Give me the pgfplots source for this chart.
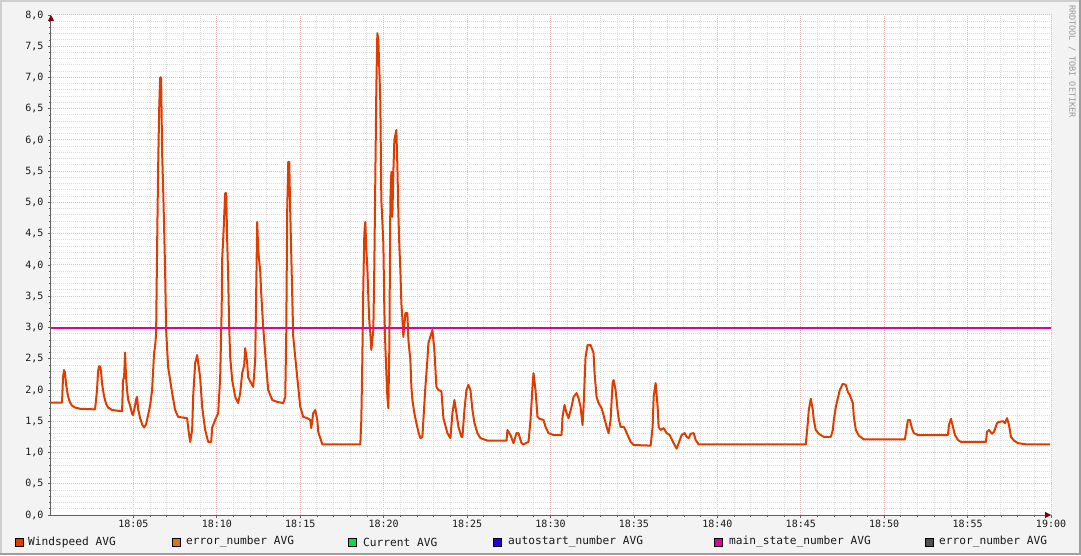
\documentclass[border=0pt]{standalone}
\usepackage{pgfplots}
\pgfplotsset{compat=1.18}
\usepackage{fontspec}
\setmainfont{DejaVu Sans Mono}
\usetikzlibrary{arrows.meta}
\definecolor{wind}{HTML}{E03C00}
\definecolor{errn}{HTML}{E07800}
\definecolor{curr}{HTML}{00E040}
\definecolor{auto}{HTML}{2000E0}
\definecolor{mains}{HTML}{E000A0}
\definecolor{errg}{HTML}{505050}
\definecolor{bgc}{HTML}{F3F3F3}
\definecolor{shadea}{HTML}{CFCFCF}
\definecolor{shadeb}{HTML}{9E9E9E}
\definecolor{gridc}{HTML}{DCDCDC}
\definecolor{mgridc}{HTML}{E6BCBC}
\definecolor{axisc}{HTML}{606060}
\definecolor{arrowc}{HTML}{800000}
\pgfplotstableread{
t v
0.06 1.80
0.72 1.80
0.78 2.20
0.84 2.32
0.90 2.28
0.96 2.10
1.02 2.00
1.08 1.90
1.20 1.80
1.32 1.75
1.50 1.72
1.80 1.70
2.70 1.69
2.82 2.00
2.88 2.30
2.94 2.38
3.00 2.38
3.06 2.30
3.12 2.10
3.24 1.90
3.36 1.78
3.48 1.72
3.72 1.68
4.32 1.66
4.38 2.16
4.44 2.20
4.50 2.60
4.56 2.20
4.62 2.00
4.68 1.85
4.80 1.75
4.92 1.62
4.98 1.60
5.10 1.75
5.16 1.85
5.22 1.89
5.28 1.70
5.40 1.55
5.52 1.45
5.64 1.40
5.76 1.45
5.88 1.60
6.00 1.75
6.12 2.00
6.18 2.30
6.24 2.60
6.30 2.70
6.36 2.90
6.42 4.29
6.48 5.52
6.54 6.45
6.60 7.00
6.66 7.00
6.72 5.80
6.78 5.25
6.84 4.60
6.90 3.90
6.96 2.96
7.08 2.37
7.32 1.95
7.50 1.68
7.68 1.57
8.22 1.55
8.28 1.40
8.40 1.17
8.52 1.36
8.58 1.89
8.70 2.43
8.82 2.56
9.00 2.20
9.12 1.73
9.30 1.36
9.48 1.17
9.66 1.17
9.72 1.40
9.90 1.52
10.08 1.63
10.20 2.20
10.29 3.30
10.32 4.10
10.38 4.40
10.44 4.77
10.50 5.15
10.56 5.15
10.62 4.40
10.68 3.80
10.74 3.00
10.80 2.53
10.92 2.16
11.10 1.89
11.28 1.79
11.40 1.95
11.52 2.27
11.64 2.40
11.70 2.67
11.82 2.43
11.88 2.20
12.12 2.08
12.18 2.05
12.30 2.48
12.36 3.60
12.42 4.69
12.48 4.24
12.60 3.90
12.66 3.55
12.78 3.00
12.96 2.37
13.08 2.00
13.32 1.84
13.62 1.81
13.98 1.79
14.10 1.89
14.16 2.90
14.22 4.90
14.28 5.65
14.34 5.65
14.40 4.85
14.52 3.50
14.58 2.85
14.82 2.20
15.00 1.73
15.18 1.57
15.42 1.55
15.60 1.52
15.66 1.39
15.78 1.63
15.90 1.68
16.02 1.52
16.08 1.33
16.20 1.23
16.32 1.13
18.60 1.13
18.66 1.52
18.72 2.48
18.78 3.68
18.84 4.51
18.90 4.69
18.96 4.24
19.02 3.97
19.08 3.49
19.14 3.09
19.20 2.91
19.26 2.64
19.38 2.96
19.44 4.00
19.56 6.83
19.62 7.71
19.68 7.60
19.74 7.12
19.80 6.59
19.86 5.04
19.98 4.35
20.04 3.28
20.10 2.69
20.22 1.89
20.28 1.71
20.34 2.69
20.40 5.04
20.46 5.49
20.52 4.77
20.58 5.49
20.64 6.00
20.76 6.16
20.82 5.60
20.88 4.83
20.94 4.29
21.00 3.92
21.06 3.39
21.12 3.15
21.18 2.85
21.30 3.23
21.42 3.23
21.48 2.80
21.60 2.48
21.66 2.05
21.72 1.84
21.84 1.63
21.96 1.47
22.08 1.33
22.20 1.23
22.32 1.25
22.38 1.52
22.50 2.05
22.62 2.48
22.68 2.75
22.92 2.96
23.04 2.64
23.16 2.05
23.28 2.00
23.46 1.98
23.58 1.55
23.82 1.31
24.00 1.23
24.12 1.63
24.24 1.84
24.36 1.63
24.48 1.41
24.66 1.25
24.72 1.25
24.84 1.68
24.96 2.00
25.08 2.08
25.20 2.00
25.32 1.68
25.44 1.47
25.62 1.31
25.80 1.23
26.22 1.19
27.36 1.19
27.42 1.36
27.60 1.28
27.78 1.15
27.96 1.31
28.08 1.31
28.26 1.15
28.38 1.13
28.68 1.17
28.80 1.52
28.92 2.05
28.98 2.27
29.10 2.00
29.22 1.57
29.34 1.54
29.58 1.52
29.70 1.41
29.88 1.31
30.18 1.28
30.66 1.28
30.72 1.57
30.84 1.76
30.96 1.63
31.08 1.55
31.26 1.73
31.38 1.89
31.56 1.95
31.68 1.87
31.80 1.73
31.92 1.44
31.98 1.73
32.10 2.53
32.22 2.72
32.40 2.72
32.58 2.59
32.64 2.27
32.76 1.89
32.88 1.79
33.06 1.71
33.18 1.60
33.36 1.41
33.48 1.31
33.60 1.52
33.72 2.11
33.78 2.16
33.90 2.00
34.02 1.68
34.08 1.55
34.20 1.41
34.38 1.41
34.44 1.39
34.62 1.28
34.80 1.17
34.98 1.12
36.00 1.11
36.12 1.41
36.18 1.89
36.30 2.11
36.42 1.73
36.48 1.41
36.60 1.36
36.78 1.39
36.96 1.31
37.14 1.28
37.38 1.15
37.56 1.06
37.68 1.15
37.86 1.28
38.04 1.31
38.16 1.25
38.28 1.23
38.40 1.30
38.58 1.31
38.70 1.20
38.88 1.13
45.30 1.13
45.42 1.47
45.48 1.68
45.60 1.86
45.72 1.68
45.78 1.52
45.90 1.36
46.08 1.30
46.38 1.25
46.80 1.25
46.92 1.36
46.98 1.52
47.10 1.73
47.22 1.87
47.34 2.00
47.52 2.10
47.70 2.08
47.82 1.97
47.94 1.92
48.12 1.79
48.18 1.57
48.30 1.36
48.48 1.27
48.78 1.21
51.24 1.21
51.36 1.41
51.42 1.52
51.54 1.52
51.66 1.39
51.78 1.31
52.02 1.28
53.82 1.28
53.88 1.44
54.00 1.54
54.12 1.41
54.24 1.28
54.42 1.20
54.60 1.17
56.10 1.17
56.16 1.33
56.28 1.36
56.46 1.30
56.58 1.33
56.76 1.47
56.88 1.49
57.12 1.50
57.24 1.47
57.36 1.55
57.48 1.44
57.60 1.25
57.78 1.19
58.02 1.15
58.50 1.13
59.94 1.13
}\windtable
\begin{document}
\begin{tikzpicture}
\useasboundingbox (0pt,0pt) rectangle (1081pt,555pt);
\fill[bgc] (0pt,0pt) rectangle (1081pt,555pt);
\fill[shadea] (0pt,553pt) rectangle (1081pt,555pt);
\fill[shadea] (0pt,0pt) rectangle (2pt,555pt);
\fill[shadeb] (0pt,0pt) rectangle (1081pt,2pt);
\fill[shadeb] (1079pt,0pt) rectangle (1081pt,555pt);
\begin{axis}[
  at={(51pt,40pt)}, anchor=south west,
  scale only axis, width=1000pt, height=500pt,
  xmin=0.06, xmax=60, ymin=0, ymax=8,
  axis background/.style={fill=white},
  axis lines=left,
  x axis line style={draw=axisc, line width=1pt, -{Triangle[length=6pt,width=6pt,color=arrowc]}},
  y axis line style={draw=axisc, line width=1pt, -{Triangle[length=6pt,width=6pt,color=arrowc]}},
  xtick={5,10,...,60},
  xticklabels={18:05,18:10,18:15,18:20,18:25,18:30,18:35,18:40,18:45,18:50,18:55,19:00},
  ytick={0,0.5,...,8},
  minor x tick num=4, minor y tick num=4,
  tick align=outside, major tick length=3pt, minor tick length=2pt,
  tick style={draw=axisc, line width=0.8pt},
  grid=both,
  major grid style={draw=mgridc, line width=1pt, dash pattern=on 1pt off 1pt},
  minor grid style={draw=gridc, line width=1pt, dash pattern=on 1pt off 1pt},
  ticklabel style={font=\fontsize{10}{10}\selectfont, text=black!90},
  xticklabel style={yshift=1pt},
  yticklabel style={xshift=-1pt, /pgf/number format/.cd, fixed, fixed zerofill, precision=1, use comma, assume math mode=true},
  clip=false,
]
\addplot[wind, line width=2pt, line join=round] table[x=t,y=v] {\windtable};
\addplot[mains, line width=2pt] coordinates {(0.06,3.0) (60,3.0)};
\end{axis}
\begin{scope}[every node/.style={anchor=west, inner sep=0pt, font=\fontsize{11.2}{11.2}\selectfont, text=black!90}]
\filldraw[fill=wind, draw=black, line width=0.8pt] (15.5pt,8.5pt) rectangle (23.5pt,16.5pt);
\node at (28pt,13pt) {Windspeed AVG};
\filldraw[fill=errn, draw=black, line width=0.8pt] (172.5pt,8.5pt) rectangle (180.5pt,16.5pt);
\node at (186pt,13pt) {error\_number AVG};
\filldraw[fill=curr, draw=black, line width=0.8pt] (348.5pt,8.5pt) rectangle (356.5pt,16.5pt);
\node at (363pt,13pt) {Current AVG};
\filldraw[fill=auto, draw=black, line width=0.8pt] (493.5pt,8.5pt) rectangle (501.5pt,16.5pt);
\node at (508pt,13pt) {autostart\_number AVG};
\filldraw[fill=mains, draw=black, line width=0.8pt] (714.5pt,8.5pt) rectangle (722.5pt,16.5pt);
\node at (729pt,13pt) {main\_state\_number AVG};
\filldraw[fill=errg, draw=black, line width=0.8pt] (925.5pt,8.5pt) rectangle (933.5pt,16.5pt);
\node at (939pt,13pt) {error\_number AVG};
\end{scope}
\node[rotate=-90, anchor=west, inner sep=0pt, text=black!40, font=\fontsize{8.5}{8.5}\selectfont] at (1072pt,550pt) {RRDTOOL / TOBI OETIKER};
\end{tikzpicture}
\end{document}
